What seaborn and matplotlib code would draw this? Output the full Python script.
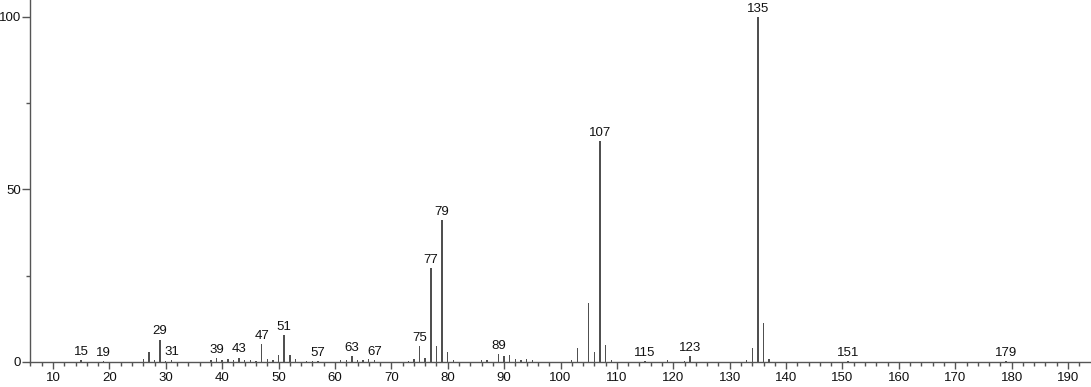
import matplotlib
matplotlib.use("Agg")
import matplotlib.pyplot as plt
import seaborn as sns
import pandas as pd
from matplotlib.ticker import MultipleLocator

mz = [15, 19, 26, 27, 28, 29, 30, 31, 38, 39, 40, 41, 42, 43, 44, 45, 46,
      47, 48, 49, 50, 51, 52, 53, 55, 56, 57, 61, 62, 63, 64, 65, 66, 67,
      73, 74, 75, 76, 77, 78, 79, 80, 81, 86, 87, 89, 90, 91, 92, 93, 94, 95,
      102, 103, 105, 106, 107, 108, 109, 115, 119, 122, 123, 133, 134, 135,
      136, 137, 151, 179]
intensity = [0.5, 0.4, 0.8, 3.0, 0.6, 6.5, 0.4, 0.6, 0.7, 1.2, 0.5, 0.9, 0.6, 1.3, 0.6, 0.6, 0.4,
             5.2, 0.9, 0.5, 2.1, 7.9, 2.1, 0.9, 0.3, 0.3, 0.4, 0.5, 0.5, 1.6, 0.5, 0.6, 0.8, 0.5,
             0.4, 0.8, 4.6, 1.2, 27.2, 4.6, 41.2, 2.9, 0.6, 0.5, 0.5, 2.3, 1.8, 2.1, 0.8, 0.5, 0.8, 0.6,
             0.5, 4.0, 17.2, 2.8, 64.1, 4.9, 0.6, 0.3, 0.6, 0.4, 1.7, 0.6, 4.1, 100.0,
             11.4, 0.8, 0.3, 0.3]
labeled = [15, 19, 29, 31, 39, 43, 47, 51, 57, 63, 67, 75, 77, 79, 89, 107,
           115, 123, 135, 151, 179]

x_ticks = list(range(10, 191, 10))
y_ticks = [0, 50, 100]

sns.set_theme(style="ticks")
plt.rcParams["font.family"] = ["Liberation Sans", "DejaVu Sans"]

df = pd.DataFrame({"mz": mz, "intensity": intensity})

fig = plt.figure(figsize=(10.91, 3.87), dpi=100)
ax = fig.add_axes([30 / 1091, 25 / 387, 1 - 31 / 1091, 1 - 25 / 387])

sns.histplot(data=df, x="mz", weights="intensity", discrete=True, shrink=0.25,
             color="#505050", linewidth=0, alpha=1.0, ax=ax)

for m, v in zip(mz, intensity):
    if m in labeled:
        ax.annotate(str(m), xy=(m, v), xytext=(0, 1.5), textcoords="offset points",
                    ha="center", va="bottom", fontsize=9.5, color="#111111")

ax.set_xlim(5.92, 193.9)
ax.set_ylim(0, 104.9)
ax.set_xticks(x_ticks)
ax.set_yticks(y_ticks)
ax.xaxis.set_minor_locator(MultipleLocator(2))
ax.yaxis.set_minor_locator(MultipleLocator(25))
ax.set_xlabel("")
ax.set_ylabel("")
sns.despine(ax=ax)
for s in ["left", "bottom"]:
    ax.spines[s].set_color("#555555")
    ax.spines[s].set_linewidth(1.0)
ax.tick_params(axis="x", which="major", length=5, width=1.0, color="#555555",
               labelsize=9.5, labelcolor="#111111", pad=2.5)
ax.tick_params(axis="x", which="minor", length=3, width=1.0, color="#555555")
ax.tick_params(axis="y", which="major", length=6, width=1.0, color="#555555",
               labelsize=9.5, labelcolor="#111111", pad=0.5)
ax.tick_params(axis="y", which="minor", length=3, width=1.0, color="#555555")

fig.savefig("out.png", dpi=100)
